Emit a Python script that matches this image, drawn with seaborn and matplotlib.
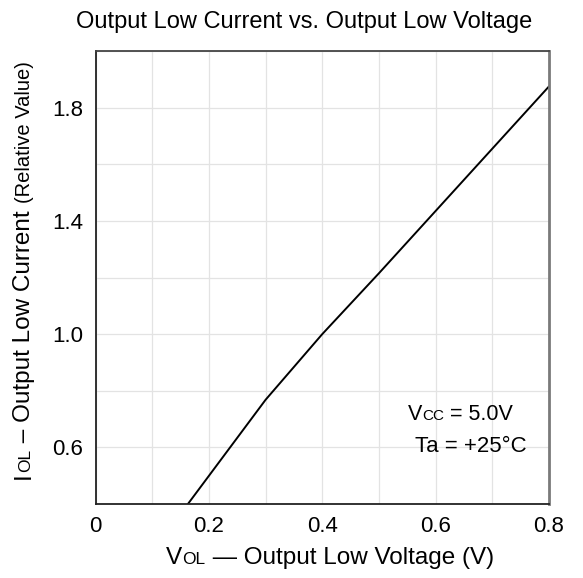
import numpy as np
import pandas as pd
import matplotlib
matplotlib.use("Agg")
import matplotlib.pyplot as plt
import seaborn as sns

# ---- data ----
vol = [0.163, 0.3, 0.4, 0.5, 0.6, 0.7, 0.8]
iol = [0.4, 0.768, 1.0, 1.215, 1.435, 1.655, 1.875]
x_ticks = [0, 0.2, 0.4, 0.6, 0.8]
x_tick_labels = ["0", "0.2", "0.4", "0.6", "0.8"]
y_ticks = [0.6, 1.0, 1.4, 1.8]
y_tick_labels = ["0.6", "1.0", "1.4", "1.8"]
title = "Output Low Current vs. Output Low Voltage"

sns.set_theme(style="white")
FONT = ["Liberation Sans", "DejaVu Sans"]
plt.rcParams["font.family"] = FONT
plt.rcParams["text.color"] = "black"

W, H = 583, 578
fig = plt.figure(figsize=(W / 100, H / 100), dpi=100)
ax = fig.add_axes([95.5 / W, 1 - 504 / H, (549 - 95.5) / W, (504 - 51) / H])

df = pd.DataFrame({"VOL": vol, "IOL": iol})
sns.lineplot(data=df, x="VOL", y="IOL", ax=ax, color="black", linewidth=1.4, sort=False)

ax.set_xlim(0, 0.8)
ax.set_ylim(0.4, 2.0)
xg = np.arange(0, 0.81, 0.1)
yg = np.arange(0.4, 2.01, 0.2)
ax.set_xticks(xg)
ax.set_yticks(yg)
ax.grid(True, color="#e3e3e3", linewidth=0.9)
ax.set_xticklabels([x_tick_labels[x_ticks.index(round(t, 1))] if round(t, 1) in x_ticks else "" for t in xg])
ax.set_yticklabels([y_tick_labels[y_ticks.index(round(t, 1))] if round(t, 1) in y_ticks else "" for t in yg])
ax.tick_params(axis="both", length=0, labelsize=16, colors="black")
ax.tick_params(axis="x", pad=9)
ax.tick_params(axis="y", pad=9)
ax.set_xlabel("")
ax.set_ylabel("")
for s in ["left", "bottom"]:
    ax.spines[s].set_color("#222222")
    ax.spines[s].set_linewidth(1.3)
ax.spines["top"].set_color("#444444")
ax.spines["top"].set_linewidth(1.3)
ax.spines["right"].set_color("#7a7a7a")
ax.spines["right"].set_linewidth(2.0)

fig.text(304 / W, 1 - 22 / H, title, ha="center", va="center", fontsize=17, family=FONT, color="black")

renderer = fig.canvas.get_renderer()


def rich(cx, cy, pieces, rotation=0, anchor="center"):
    """pieces: list of (text, fontsize). cx, cy in pixels (y from top) of baseline start/centre."""
    widths = []
    for txt, fs in pieces:
        t = fig.text(0, 0, txt, fontsize=fs, family=FONT)
        bb = t.get_window_extent(renderer)
        widths.append(bb.width)
        t.remove()
    total = sum(widths)
    off = -total / 2 if anchor == "center" else 0
    ang = np.deg2rad(rotation)
    X0, Y0 = cx, H - cy
    for (txt, fs), w in zip(pieces, widths):
        px = X0 + np.cos(ang) * off
        py = Y0 + np.sin(ang) * off
        fig.text(px / W, py / H, txt, fontsize=fs, family=FONT, ha="left", va="baseline",
                 rotation=rotation, rotation_mode="anchor", color="black")
        off += w


rich(330, 564, [("V", 17.5), ("OL", 12.5), (" \u2014 Output Low Voltage (V)", 17.5)])
rich(30, 270, [("I", 17.5), ("OL", 12.5), (" \u2013 Output Low Current ", 17.5), ("(Relative Value)", 14.5)],
     rotation=90)
rich(408, 420, [("V", 15.5), ("CC", 11), (" = 5.0V", 15.5)], anchor="left")
rich(415, 452, [("Ta = +25\u00b0C", 16)], anchor="left")

fig.savefig("out.png", dpi=100)
